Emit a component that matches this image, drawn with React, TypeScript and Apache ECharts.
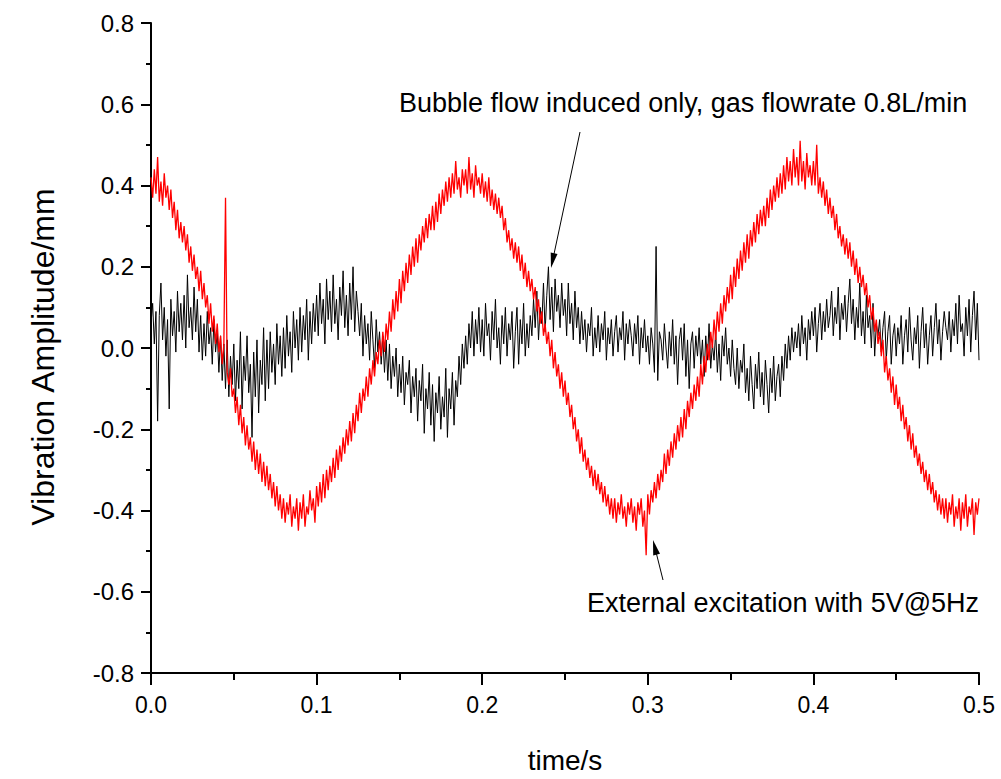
import React, { useEffect, useRef } from "react";
import * as echarts from "echarts";

// sampling interval of both recordings (s)
const SAMPLE_STEP = 0.001;

// Bubble flow induced only, gas flowrate 0.8 L/min (mm), samples every 0.001 s from 0 to 0.5 s
const bubbleFlow = [
  0.06, 0.11, 0.01, 0.09, -0.18, 0.08, 0.16, 0.02, 0.10, -0.02,
  0.07, -0.15, 0.12, 0.03, 0.09, -0.01, 0.14, 0.04, 0.11, 0.02,
  0.13, 0.00, 0.18, 0.05, 0.10, 0.02, 0.15, 0.04, 0.12, -0.01,
  0.08, -0.03, 0.06, -0.02, 0.09, 0.01, 0.05, -0.04, 0.07, -0.01,
  0.04, -0.06, 0.03, -0.08, 0.01, -0.10, 0.02, -0.12, -0.02, -0.09,
  0.01, -0.13, -0.03, -0.10, 0.04, -0.15, -0.02, -0.08, 0.03, -0.11,
  -0.04, -0.22, -0.01, -0.12, 0.02, -0.16, -0.03, -0.09, 0.05, -0.13,
  0.02, -0.10, 0.04, -0.06, 0.01, -0.09, 0.06, -0.04, 0.03, -0.07,
  0.05, -0.05, 0.08, -0.02, 0.04, -0.06, 0.09, 0.00, 0.07, -0.03,
  0.10, -0.01, 0.08, 0.02, 0.12, -0.03, 0.09, 0.01, 0.11, 0.04,
  0.13, 0.03, 0.16, 0.06, 0.12, 0.01, 0.17, 0.07, 0.14, 0.04,
  0.18, 0.06, 0.12, 0.02, 0.15, 0.08, 0.19, 0.05, 0.13, 0.03,
  0.16, 0.07, 0.20, 0.04, 0.14, 0.09, 0.03, 0.11, -0.02, 0.08,
  0.01, 0.06, -0.03, 0.09, 0.02, -0.05, 0.07, -0.01, 0.04, -0.04,
  0.03, -0.06, 0.02, -0.08, 0.01, -0.10, -0.02, -0.07, 0.00, -0.12,
  -0.04, -0.11, -0.02, -0.14, -0.06, -0.09, -0.03, -0.16, -0.07, -0.12,
  -0.05, -0.18, -0.08, -0.13, -0.04, -0.21, -0.10, -0.15, -0.06, -0.19,
  -0.09, -0.23, -0.11, -0.16, -0.07, -0.20, -0.12, -0.17, -0.05, -0.22,
  -0.10, -0.15, -0.06, -0.19, -0.08, -0.12, -0.02, -0.09, 0.01, -0.05,
  0.03, -0.04, 0.06, 0.00, 0.09, -0.02, 0.07, 0.01, 0.10, -0.01,
  0.07, -0.02, 0.11, 0.03, 0.06, -0.03, 0.09, 0.02, 0.12, 0.00,
  0.05, -0.04, 0.08, 0.01, 0.10, -0.02, 0.06, 0.02, 0.09, -0.05,
  0.04, 0.10, -0.04, 0.07, 0.01, 0.11, -0.02, 0.06, 0.00, 0.08,
  0.03, 0.12, 0.05, 0.14, 0.02, 0.10, 0.06, 0.16, 0.04, 0.13,
  0.20, 0.07, 0.15, 0.04, 0.17, 0.09, 0.13, 0.05, 0.16, 0.08,
  0.12, 0.03, 0.16, 0.06, 0.11, 0.02, 0.14, 0.05, 0.10, 0.01,
  0.09, 0.02, 0.07, -0.01, 0.06, 0.03, 0.10, -0.02, 0.05, 0.00,
  0.08, -0.01, 0.06, 0.02, 0.09, -0.03, 0.05, 0.01, 0.07, -0.02,
  0.04, 0.08, -0.01, 0.05, 0.02, 0.09, -0.03, 0.06, 0.01, 0.07,
  0.03, -0.02, 0.06, 0.01, 0.08, -0.04, 0.05, 0.00, 0.07, -0.01,
  0.03, -0.04, 0.05, 0.01, -0.06, 0.25, -0.08, 0.04, 0.02, -0.03,
  0.06, 0.00, -0.05, 0.04, -0.02, 0.07, -0.04, 0.03, -0.09, 0.02,
  0.05, -0.03, 0.06, -0.07, 0.02, -0.10, 0.01, 0.04, -0.05, 0.03,
  -0.02, 0.05, -0.04, 0.02, -0.07, 0.03, -0.03, 0.06, -0.05, 0.01,
  -0.03, 0.04, -0.06, 0.01, -0.08, 0.03, -0.02, 0.05, -0.04, 0.00,
  -0.07, 0.02, -0.05, -0.09, 0.00, -0.10, -0.03, -0.06, 0.01, -0.11,
  -0.05, -0.13, -0.02, -0.09, -0.15, -0.04, -0.10, -0.01, -0.12, -0.06,
  -0.14, -0.03, -0.09, -0.16, -0.05, -0.11, -0.02, -0.13, -0.07, -0.04,
  -0.12, -0.02, -0.08, 0.01, -0.05, 0.03, -0.03, 0.05, -0.01, 0.04,
  0.00, 0.06, -0.02, 0.08, 0.01, 0.05, -0.03, 0.07, 0.02, 0.09,
  0.03, 0.10, -0.01, 0.06, 0.11, 0.02, 0.09, 0.04, 0.12, 0.05,
  0.08, 0.14, 0.03, 0.10, 0.06, 0.15, 0.02, 0.11, 0.07, 0.13,
  0.04, 0.11, 0.17, 0.06, 0.12, 0.02, 0.10, 0.05, 0.16, 0.03,
  0.09, 0.01, 0.13, 0.05, 0.08, 0.00, 0.11, -0.02, 0.06, 0.03,
  0.07, -0.01, 0.05, 0.09, -0.03, 0.04, 0.08, -0.04, 0.03, 0.06,
  -0.02, 0.05, 0.01, 0.08, -0.04, 0.03, 0.07, -0.01, 0.10, 0.02,
  -0.03, 0.05, 0.01, 0.08, -0.05, 0.04, 0.10, 0.00, 0.06, -0.04,
  0.03, 0.08, -0.02, 0.05, 0.11, 0.01, 0.07, -0.03, 0.04, 0.09,
  0.05, 0.02, 0.09, -0.01, 0.07, 0.03, 0.11, 0.01, 0.13, 0.04,
  0.06, -0.02, 0.10, 0.03, 0.12, -0.01, 0.08, 0.14, 0.02, 0.11,
  -0.03,
];

// External excitation with 5V@5Hz (mm), samples every 0.001 s from 0 to 0.5 s
const excitation = [
  0.42, 0.37, 0.44, 0.38, 0.47, 0.36, 0.41, 0.35, 0.43, 0.37,
  0.40, 0.34, 0.39, 0.32, 0.36, 0.29, 0.34, 0.27, 0.31, 0.26,
  0.30, 0.24, 0.28, 0.21, 0.25, 0.19, 0.23, 0.17, 0.20, 0.14,
  0.19, 0.12, 0.16, 0.10, 0.13, 0.06, 0.11, 0.04, 0.08, 0.01,
  0.06, -0.01, 0.03, -0.04, 0.01, 0.37, -0.06, -0.09, -0.05, -0.12,
  -0.10, -0.16, -0.12, -0.19, -0.14, -0.21, -0.17, -0.24, -0.19, -0.25,
  -0.22, -0.28, -0.23, -0.30, -0.25, -0.31, -0.26, -0.33, -0.28, -0.34,
  -0.29, -0.35, -0.31, -0.37, -0.33, -0.39, -0.34, -0.40, -0.36, -0.42,
  -0.37, -0.43, -0.38, -0.41, -0.36, -0.44, -0.39, -0.42, -0.37, -0.45,
  -0.38, -0.42, -0.36, -0.44, -0.39, -0.41, -0.35, -0.40, -0.37, -0.43,
  -0.34, -0.39, -0.33, -0.38, -0.31, -0.37, -0.30, -0.35, -0.29, -0.33,
  -0.27, -0.32, -0.25, -0.30, -0.24, -0.28, -0.22, -0.26, -0.20, -0.24,
  -0.18, -0.23, -0.16, -0.21, -0.14, -0.18, -0.11, -0.16, -0.10, -0.13,
  -0.07, -0.12, -0.05, -0.09, -0.03, -0.07, -0.01, -0.04, 0.02, -0.02,
  0.04, -0.01, 0.06, 0.02, 0.09, 0.04, 0.12, 0.07, 0.14, 0.09,
  0.17, 0.11, 0.19, 0.14, 0.21, 0.16, 0.23, 0.18, 0.25, 0.20,
  0.27, 0.21, 0.28, 0.24, 0.30, 0.26, 0.32, 0.27, 0.33, 0.29,
  0.35, 0.29, 0.36, 0.31, 0.38, 0.33, 0.39, 0.35, 0.41, 0.36,
  0.42, 0.37, 0.43, 0.38, 0.46, 0.39, 0.42, 0.37, 0.44, 0.40,
  0.44, 0.38, 0.47, 0.39, 0.43, 0.37, 0.45, 0.40, 0.42, 0.38,
  0.43, 0.37, 0.41, 0.36, 0.42, 0.35, 0.39, 0.34, 0.38, 0.33,
  0.37, 0.32, 0.35, 0.29, 0.32, 0.26, 0.29, 0.24, 0.27, 0.22,
  0.26, 0.21, 0.25, 0.19, 0.23, 0.17, 0.21, 0.15, 0.19, 0.14,
  0.17, 0.12, 0.15, 0.09, 0.12, 0.06, 0.09, 0.03, 0.06, 0.01,
  0.04, -0.02, 0.02, -0.05, -0.01, -0.07, -0.04, -0.10, -0.06, -0.12,
  -0.08, -0.14, -0.11, -0.17, -0.14, -0.20, -0.17, -0.23, -0.20, -0.26,
  -0.22, -0.28, -0.25, -0.30, -0.27, -0.32, -0.29, -0.34, -0.30, -0.35,
  -0.31, -0.36, -0.33, -0.38, -0.34, -0.39, -0.36, -0.41, -0.37, -0.42,
  -0.37, -0.43, -0.38, -0.41, -0.36, -0.42, -0.39, -0.44, -0.38, -0.41,
  -0.37, -0.43, -0.39, -0.45, -0.38, -0.41, -0.37, -0.44, -0.40, -0.51,
  -0.36, -0.41, -0.35, -0.38, -0.33, -0.37, -0.31, -0.35, -0.30, -0.33,
  -0.26, -0.31, -0.25, -0.29, -0.23, -0.27, -0.21, -0.25, -0.19, -0.23,
  -0.17, -0.22, -0.15, -0.20, -0.13, -0.17, -0.11, -0.15, -0.09, -0.13,
  -0.07, -0.12, -0.04, -0.09, -0.02, -0.06, 0.01, -0.03, 0.04, 0.00,
  0.07, 0.02, 0.09, 0.04, 0.11, 0.06, 0.13, 0.09, 0.15, 0.11,
  0.18, 0.12, 0.20, 0.15, 0.22, 0.17, 0.24, 0.19, 0.26, 0.21,
  0.28, 0.22, 0.29, 0.25, 0.31, 0.26, 0.33, 0.28, 0.34, 0.30,
  0.35, 0.30, 0.37, 0.32, 0.39, 0.34, 0.40, 0.36, 0.42, 0.37,
  0.43, 0.38, 0.45, 0.39, 0.47, 0.41, 0.46, 0.40, 0.49, 0.42,
  0.47, 0.40, 0.51, 0.41, 0.46, 0.39, 0.48, 0.42, 0.45, 0.40,
  0.46, 0.40, 0.50, 0.38, 0.42, 0.37, 0.41, 0.35, 0.39, 0.33,
  0.37, 0.32, 0.35, 0.29, 0.33, 0.27, 0.30, 0.25, 0.28, 0.23,
  0.27, 0.22, 0.26, 0.20, 0.24, 0.18, 0.22, 0.16, 0.20, 0.15,
  0.18, 0.13, 0.16, 0.10, 0.13, 0.07, 0.10, 0.04, 0.07, 0.01,
  0.04, -0.02, 0.02, -0.06, -0.02, -0.08, -0.05, -0.11, -0.07, -0.14,
  -0.09, -0.15, -0.12, -0.18, -0.14, -0.20, -0.17, -0.23, -0.19, -0.25,
  -0.21, -0.27, -0.24, -0.29, -0.26, -0.31, -0.28, -0.33, -0.30, -0.35,
  -0.31, -0.36, -0.33, -0.38, -0.35, -0.40, -0.36, -0.41, -0.37, -0.42,
  -0.37, -0.43, -0.38, -0.41, -0.36, -0.44, -0.39, -0.42, -0.37, -0.45,
  -0.38, -0.42, -0.36, -0.44, -0.39, -0.41, -0.37, -0.46, -0.38, -0.41,
  -0.37,
];

const xTicks = [0, 0.1, 0.2, 0.3, 0.4, 0.5];
const yTicks = [-0.8, -0.6, -0.4, -0.2, 0, 0.2, 0.4, 0.6, 0.8];

const bubbleLabel = "Bubble flow induced only, gas flowrate 0.8L/min";
const excitationLabel = "External excitation with 5V@5Hz";
const xTitle = "time/s";
const yTitle = "Vibration Amplitude/mm";

const FONT = "Liberation Sans, Arial, Helvetica, sans-serif";

function toPairs(values: number[]) {
  return values.map((v, i) => [Number((i * SAMPLE_STEP).toFixed(3)), v]);
}

export default function App() {
  const ref = useRef<HTMLDivElement>(null);

  useEffect(() => {
    if (!ref.current) return;
    const chart = echarts.init(ref.current, null, { renderer: "svg" });
    chart.setOption({
      animation: false,
      backgroundColor: "#ffffff",
      grid: { left: 151, right: 22, top: 23, bottom: 102, containLabel: false },
      xAxis: {
        type: "value",
        min: xTicks[0],
        max: xTicks[xTicks.length - 1],
        interval: 0.1,
        name: xTitle,
        nameLocation: "middle",
        nameGap: 73,
        nameTextStyle: { fontFamily: FONT, fontSize: 28, color: "#000" },
        axisLine: { show: true, onZero: false, lineStyle: { color: "#000", width: 2 } },
        axisTick: { show: true, inside: false, length: 12, lineStyle: { color: "#000", width: 2 } },
        minorTick: { show: true, splitNumber: 2, length: 7, lineStyle: { color: "#000", width: 2 } },
        axisLabel: {
          fontFamily: FONT,
          fontSize: 23,
          color: "#000",
          margin: 20,
          formatter: (v: number) => v.toFixed(1),
        },
        splitLine: { show: false },
        minorSplitLine: { show: false },
      },
      yAxis: {
        type: "value",
        min: yTicks[0],
        max: yTicks[yTicks.length - 1],
        interval: 0.2,
        axisLine: { show: true, onZero: false, lineStyle: { color: "#000", width: 2 } },
        axisTick: { show: true, inside: false, length: 10, lineStyle: { color: "#000", width: 2 } },
        minorTick: { show: true, splitNumber: 2, length: 5, lineStyle: { color: "#000", width: 2 } },
        axisLabel: {
          fontFamily: FONT,
          fontSize: 24,
          color: "#000",
          margin: 17,
          formatter: (v: number) => v.toFixed(1),
        },
        splitLine: { show: false },
        minorSplitLine: { show: false },
      },
      series: [
        {
          name: bubbleLabel,
          type: "line",
          data: toPairs(bubbleFlow),
          showSymbol: false,
          symbol: "none",
          lineStyle: { color: "#000000", width: 1 },
          z: 2,
        },
        {
          name: excitationLabel,
          type: "line",
          data: toPairs(excitation),
          showSymbol: false,
          symbol: "none",
          lineStyle: { color: "#ff0000", width: 1.3 },
          z: 3,
        },
      ],
      graphic: [
        {
          type: "text",
          x: 43,
          y: 357,
          rotation: Math.PI / 2,
          style: {
            text: yTitle,
            font: `32px ${FONT}`,
            fill: "#000",
            textAlign: "center",
            textVerticalAlign: "middle",
          },
          z: 10,
        },
        {
          type: "text",
          x: 399,
          y: 103,
          style: {
            text: bubbleLabel,
            font: `27px ${FONT}`,
            fill: "#000",
            textVerticalAlign: "middle",
          },
          z: 10,
        },
        {
          type: "line",
          shape: { x1: 580, y1: 132, x2: 554, y2: 254 },
          style: { stroke: "#000", lineWidth: 1 },
          z: 10,
        },
        {
          type: "polygon",
          shape: { points: [[551, 268], [557.5, 254], [550.7, 252.6]] },
          style: { fill: "#000" },
          z: 10,
        },
        {
          type: "text",
          x: 587,
          y: 603,
          style: {
            text: excitationLabel,
            font: `27px ${FONT}`,
            fill: "#000",
            textVerticalAlign: "middle",
          },
          z: 10,
        },
        {
          type: "line",
          shape: { x1: 663, y1: 580, x2: 656.5, y2: 554 },
          style: { stroke: "#000", lineWidth: 1 },
          z: 10,
        },
        {
          type: "polygon",
          shape: { points: [[653, 540], [660, 553.8], [653.2, 555.5]] },
          style: { fill: "#000" },
          z: 10,
        },
      ],
    });
    return () => chart.dispose();
  }, []);

  return (
    <div
      ref={ref}
      style={{ position: "absolute", left: 0, top: 0, width: 1001, height: 779, background: "#fff" }}
    />
  );
}
